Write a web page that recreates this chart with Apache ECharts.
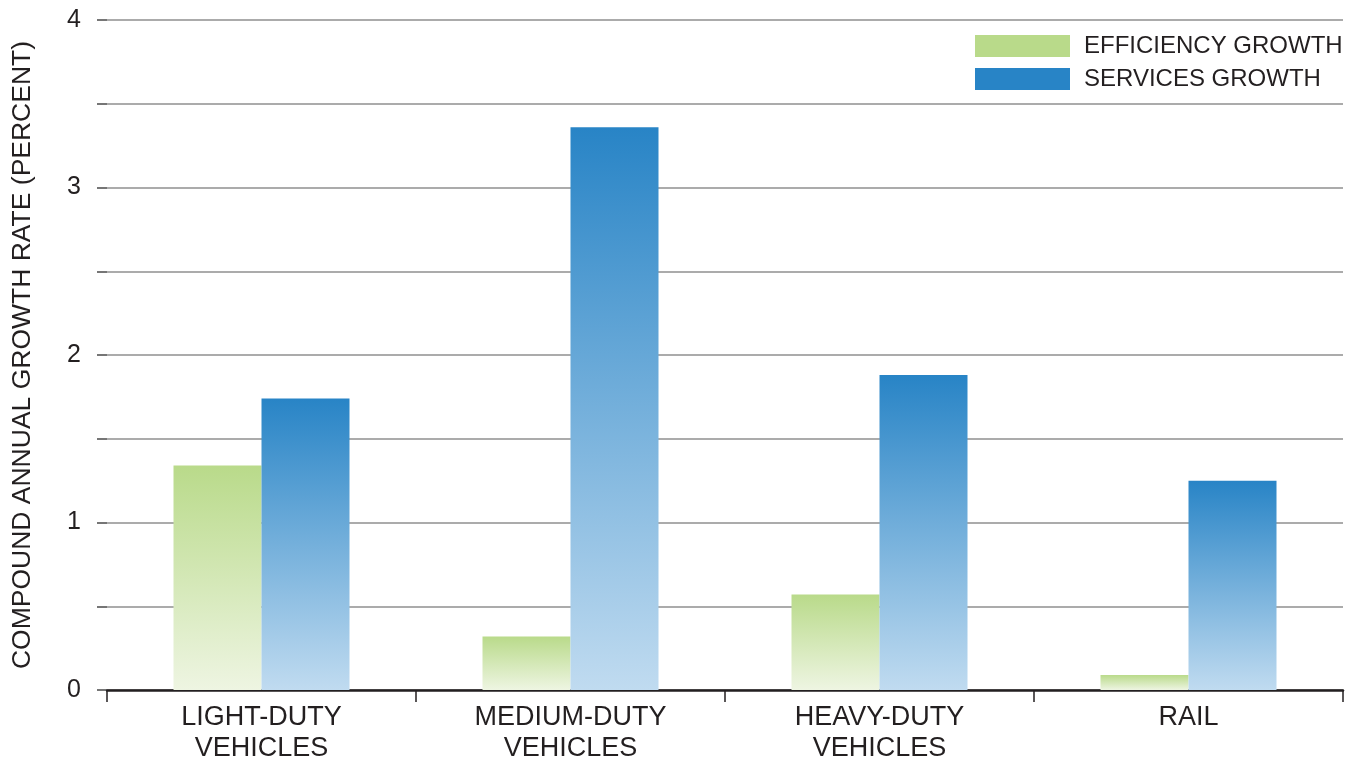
<!DOCTYPE html>
<html>
<head>
<meta charset="utf-8">
<style>
  html, body { margin: 0; padding: 0; background: #fff; }
  #chart { width: 1354px; height: 762px; }
</style>
<script src="https://cdn.jsdelivr.net/npm/echarts@6/dist/echarts.min.js"></script>
</head>
<body>
<div id="chart"></div>
<script>
// Compound annual growth rates by transport mode
const categories = ['LIGHT-DUTY\nVEHICLES', 'MEDIUM-DUTY\nVEHICLES', 'HEAVY-DUTY\nVEHICLES', 'RAIL'];
const efficiencyGrowth = [1.34, 0.32, 0.57, 0.09];
const servicesGrowth = [1.74, 3.36, 1.88, 1.25];
const seriesNames = ['EFFICIENCY GROWTH', 'SERVICES GROWTH'];
const yAxisTitle = 'COMPOUND ANNUAL GROWTH RATE (PERCENT)';

const FONT = '"Liberation Sans", Arial, Helvetica, sans-serif';
const TEXT = '#231f20';
const GREEN = '#b9da8a';
const BLUE = '#2884c6';

// Vertical fade from the solid colour at the top to a pale tint at the base
function fade(top, bottom) {
  return new echarts.graphic.LinearGradient(0, 0, 0, 1, [
    { offset: 0, color: top },
    { offset: 1, color: bottom }
  ]);
}

const chart = echarts.init(document.getElementById('chart'), null, { renderer: 'canvas' });

chart.setOption({
  animation: false,
  backgroundColor: '#ffffff',
  textStyle: { fontFamily: FONT, color: TEXT },
  grid: {
    left: 107, right: 11, top: 20, bottom: 72,
    containLabel: false,
    outerBoundsMode: 'none'
  },
  legend: {
    orient: 'vertical',
    left: 970,
    top: 29,
    itemWidth: 95,
    itemHeight: 22,
    itemGap: 9,
    icon: 'rect',
    textStyle: { fontFamily: FONT, fontSize: 24, color: TEXT, padding: [0, 0, 0, 9] },
    data: [
      { name: seriesNames[0], itemStyle: { color: GREEN } },
      { name: seriesNames[1], itemStyle: { color: BLUE } }
    ]
  },
  xAxis: {
    type: 'category',
    data: categories,
    axisLine: { show: true, lineStyle: { color: TEXT, width: 2.5 } },
    axisTick: { show: true, length: 12, lineStyle: { color: TEXT, width: 1.5 } },
    axisLabel: {
      fontFamily: FONT,
      fontSize: 27,
      color: TEXT,
      lineHeight: 31,
      margin: 12
    }
  },
  yAxis: {
    type: 'value',
    min: 0,
    max: 4,
    interval: 0.5,
    name: yAxisTitle,
    nameLocation: 'middle',
    nameGap: 71,
    nameTextStyle: { fontFamily: FONT, fontSize: 26.5, color: TEXT },
    axisLine: { show: false },
    axisTick: { show: true, length: 10, lineStyle: { color: '#4a4a4a', width: 1.5 } },
    axisLabel: {
      fontFamily: FONT,
      fontSize: 25,
      color: TEXT,
      margin: 26,
      formatter: v => (Number.isInteger(v) ? String(v) : '')
    },
    splitLine: { show: true, lineStyle: { color: '#8f8f8f', width: 1.5 } }
  },
  series: [
    {
      name: seriesNames[0],
      type: 'bar',
      data: efficiencyGrowth,
      barWidth: 88,
      barGap: '0%',
      itemStyle: { color: fade(GREEN, '#eef5e2') }
    },
    {
      name: seriesNames[1],
      type: 'bar',
      data: servicesGrowth,
      barWidth: 88,
      barGap: '0%',
      itemStyle: { color: fade(BLUE, '#c0dbf0') }
    }
  ]
});
</script>
</body>
</html>
